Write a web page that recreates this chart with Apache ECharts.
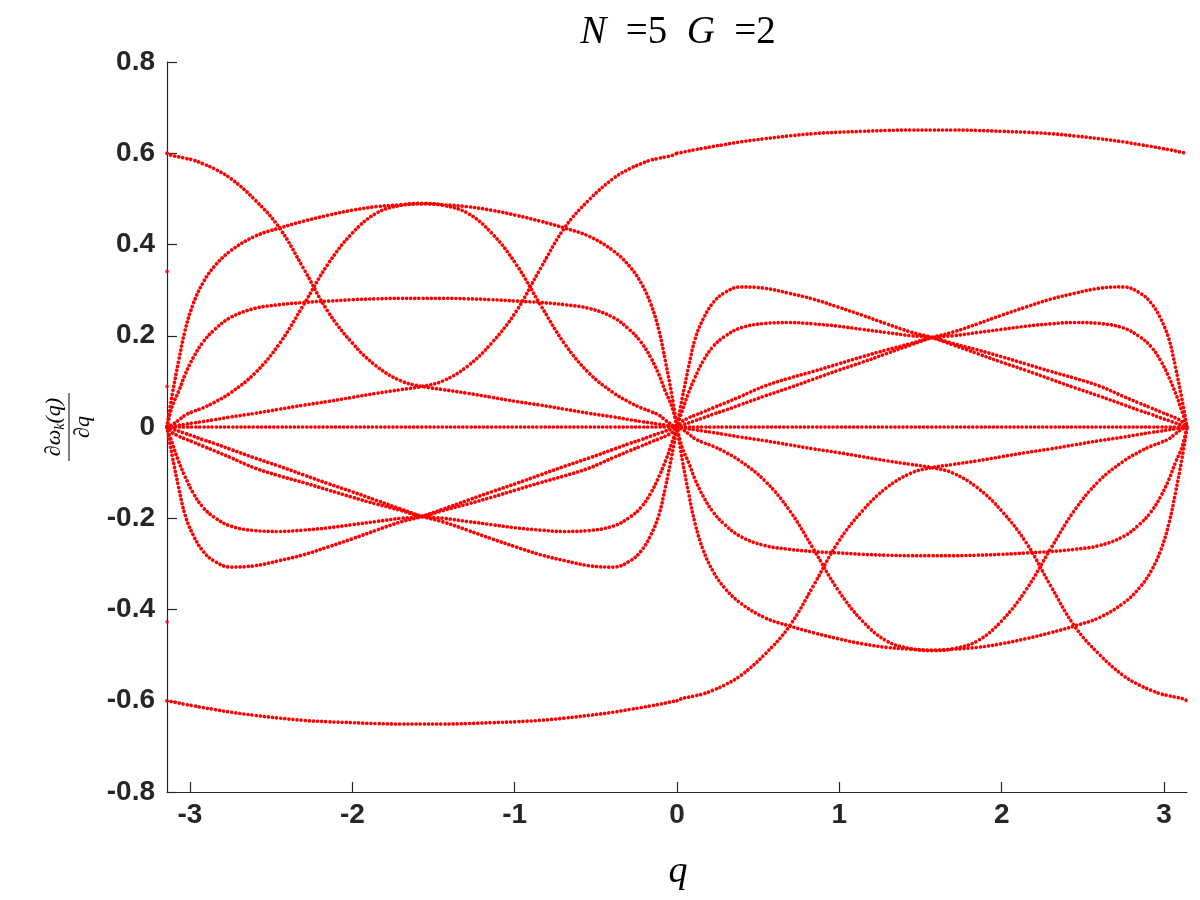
<!DOCTYPE html>
<html>
<head>
<meta charset="utf-8">
<script src="https://cdn.jsdelivr.net/npm/echarts@6/dist/echarts.min.js"></script>
<style>
  html, body { margin: 0; padding: 0; background: #fff; }
  #chart { width: 1200px; height: 900px; }
</style>
</head>
<body>
<div id="chart"></div>
<script>
// q grids for the two halves of the zone
const qLeft = [-3.1416, -3.11, -3.07, -3.03, -2.98, -2.92, -2.85, -2.75, -2.6, -2.45, -2.3, -2.15, -2.0, -1.85, -1.7, -1.5708,
  -1.4416, -1.2916, -1.1416, -0.9916, -0.8416, -0.6916, -0.5416, -0.3916, -0.2916, -0.2216, -0.1616, -0.1116, -0.0716, -0.0316, 0];
const qRight = [0, 0.0316, 0.0716, 0.1116, 0.1616, 0.2216, 0.2916, 0.3916, 0.5416, 0.6916, 0.8416, 0.9916, 1.1416, 1.2916, 1.4416, 1.5708,
  1.7, 1.85, 2.0, 2.15, 2.3, 2.45, 2.6, 2.75, 2.85, 2.92, 2.98, 3.03, 3.07, 3.11, 3.1416];

// ---- left half (q < 0)
const bowL = [-0.600, -0.602, -0.605, -0.608, -0.611, -0.615, -0.619, -0.625, -0.632, -0.638, -0.643, -0.646, -0.648, -0.650, -0.651, -0.651,
  -0.651, -0.650, -0.648, -0.646, -0.643, -0.638, -0.632, -0.625, -0.619, -0.615, -0.611, -0.608, -0.605, -0.602, -0.600];
const u1L = [0, 0.070, 0.145, 0.212, 0.270, 0.316, 0.352, 0.386, 0.418, 0.436, 0.451, 0.464, 0.475, 0.483, 0.487, 0.489,
  0.487, 0.483, 0.475, 0.464, 0.451, 0.436, 0.418, 0.386, 0.352, 0.316, 0.270, 0.212, 0.145, 0.070, 0];
const u2L = [0, 0.005, 0.015, 0.026, 0.034, 0.042, 0.054, 0.075, 0.118, 0.182, 0.268, 0.357, 0.425, 0.469, 0.486, 0.490,
  0.486, 0.469, 0.425, 0.357, 0.268, 0.182, 0.118, 0.075, 0.054, 0.042, 0.034, 0.026, 0.015, 0.005, 0];
const f1L = [0, 0.045, 0.078, 0.115, 0.152, 0.186, 0.213, 0.240, 0.260, 0.268, 0.273, 0.276, 0.279, 0.281, 0.282, 0.282,
  0.282, 0.281, 0.279, 0.276, 0.273, 0.268, 0.260, 0.240, 0.213, 0.186, 0.152, 0.115, 0.078, 0.045, 0];
const arcDownL = [0.600, 0.595, 0.592, 0.589, 0.585, 0.577, 0.566, 0.545, 0.498, 0.437, 0.347, 0.253, 0.184, 0.133, 0.101, 0.089,
  0.082, 0.074, 0.065, 0.056, 0.048, 0.039, 0.030, 0.022, 0.016, 0.012, 0.009, 0.006, 0.004, 0.002, 0];
const arcUpL = [0, 0.002, 0.004, 0.006, 0.009, 0.012, 0.016, 0.022, 0.030, 0.039, 0.048, 0.056, 0.065, 0.074, 0.082, 0.089,
  0.101, 0.133, 0.184, 0.253, 0.347, 0.437, 0.498, 0.545, 0.566, 0.577, 0.585, 0.589, 0.592, 0.595, 0.600];
const lowAL = [0, -0.004, -0.009, -0.014, -0.020, -0.028, -0.036, -0.049, -0.068, -0.086, -0.105, -0.124, -0.142, -0.161, -0.180, -0.196,
  -0.208, -0.226, -0.245, -0.263, -0.280, -0.293, -0.304, -0.307, -0.294, -0.272, -0.237, -0.193, -0.132, -0.062, 0];
const lowBL = [0, -0.062, -0.132, -0.193, -0.237, -0.272, -0.294, -0.307, -0.304, -0.293, -0.280, -0.263, -0.245, -0.226, -0.208, -0.196,
  -0.180, -0.161, -0.142, -0.124, -0.105, -0.086, -0.068, -0.049, -0.036, -0.028, -0.020, -0.014, -0.009, -0.004, 0];
const lowCL = [0, -0.012, -0.020, -0.026, -0.033, -0.042, -0.052, -0.067, -0.090, -0.107, -0.122, -0.138, -0.154, -0.169, -0.183, -0.196,
  -0.200, -0.207, -0.214, -0.221, -0.226, -0.229, -0.227, -0.217, -0.198, -0.176, -0.145, -0.109, -0.075, -0.035, 0];
const lowDL = [0, -0.035, -0.075, -0.109, -0.145, -0.176, -0.198, -0.217, -0.227, -0.229, -0.226, -0.221, -0.214, -0.207, -0.200, -0.196,
  -0.183, -0.169, -0.154, -0.138, -0.122, -0.107, -0.090, -0.067, -0.052, -0.042, -0.033, -0.026, -0.020, -0.012, 0];
const flatZero = [0, 0, 0, 0, 0, 0, 0, 0, 0, 0, 0, 0, 0, 0, 0, 0, 0, 0, 0, 0, 0, 0, 0, 0, 0, 0, 0, 0, 0, 0, 0];

// ---- right half (q > 0)
const capR = [0.600, 0.602, 0.605, 0.608, 0.611, 0.615, 0.619, 0.625, 0.632, 0.638, 0.643, 0.646, 0.648, 0.650, 0.651, 0.651,
  0.651, 0.650, 0.648, 0.646, 0.643, 0.638, 0.632, 0.625, 0.619, 0.615, 0.611, 0.608, 0.605, 0.602, 0.600];
const u1R = [0, -0.070, -0.145, -0.212, -0.270, -0.316, -0.352, -0.386, -0.418, -0.436, -0.451, -0.464, -0.475, -0.483, -0.487, -0.489,
  -0.487, -0.483, -0.475, -0.464, -0.451, -0.436, -0.418, -0.386, -0.352, -0.316, -0.270, -0.212, -0.145, -0.070, 0];
const u2R = [0, -0.005, -0.015, -0.026, -0.034, -0.042, -0.054, -0.075, -0.118, -0.182, -0.268, -0.357, -0.425, -0.469, -0.486, -0.490,
  -0.486, -0.469, -0.425, -0.357, -0.268, -0.182, -0.118, -0.075, -0.054, -0.042, -0.034, -0.026, -0.015, -0.005, 0];
const f1R = [0, -0.045, -0.078, -0.115, -0.152, -0.186, -0.213, -0.240, -0.260, -0.268, -0.273, -0.276, -0.279, -0.281, -0.282, -0.282,
  -0.282, -0.281, -0.279, -0.276, -0.273, -0.268, -0.260, -0.240, -0.213, -0.186, -0.152, -0.115, -0.078, -0.045, 0];
const arcDownR = [-0.600, -0.595, -0.592, -0.589, -0.585, -0.577, -0.566, -0.545, -0.498, -0.437, -0.347, -0.253, -0.184, -0.133, -0.101, -0.089,
  -0.082, -0.074, -0.065, -0.056, -0.048, -0.039, -0.030, -0.022, -0.016, -0.012, -0.009, -0.006, -0.004, -0.002, 0];
const arcUpR = [0, -0.002, -0.004, -0.006, -0.009, -0.012, -0.016, -0.022, -0.030, -0.039, -0.048, -0.056, -0.065, -0.074, -0.082, -0.089,
  -0.101, -0.133, -0.184, -0.253, -0.347, -0.437, -0.498, -0.545, -0.566, -0.577, -0.585, -0.589, -0.592, -0.595, -0.600];
const highAR = [0, 0.004, 0.009, 0.014, 0.020, 0.028, 0.036, 0.049, 0.068, 0.086, 0.105, 0.124, 0.142, 0.161, 0.180, 0.196,
  0.208, 0.226, 0.245, 0.263, 0.280, 0.293, 0.304, 0.307, 0.294, 0.272, 0.237, 0.193, 0.132, 0.062, 0];
const highBR = [0, 0.062, 0.132, 0.193, 0.237, 0.272, 0.294, 0.307, 0.304, 0.293, 0.280, 0.263, 0.245, 0.226, 0.208, 0.196,
  0.180, 0.161, 0.142, 0.124, 0.105, 0.086, 0.068, 0.049, 0.036, 0.028, 0.020, 0.014, 0.009, 0.004, 0];
const highCR = [0, 0.012, 0.020, 0.026, 0.033, 0.042, 0.052, 0.067, 0.090, 0.107, 0.122, 0.138, 0.154, 0.169, 0.183, 0.196,
  0.200, 0.207, 0.214, 0.221, 0.226, 0.229, 0.227, 0.217, 0.198, 0.176, 0.145, 0.109, 0.075, 0.035, 0];
const highDR = [0, 0.035, 0.075, 0.109, 0.145, 0.176, 0.198, 0.217, 0.227, 0.229, 0.226, 0.221, 0.214, 0.207, 0.200, 0.196,
  0.183, 0.169, 0.154, 0.138, 0.122, 0.107, 0.090, 0.067, 0.052, 0.042, 0.033, 0.026, 0.020, 0.012, 0];

// stray points sitting right on q = -pi
const edgeQ = [-3.1416, -3.1416, -3.1416];
const edgeV = [0.341, 0.089, -0.427];

const xTicks = [-3, -2, -1, 0, 1, 2, 3];

const leftCurves = [bowL, u1L, u2L, f1L, arcDownL, arcUpL, lowAL, lowBL, lowCL, lowDL, flatZero];
const rightCurves = [capR, u1R, u2R, f1R, arcDownR, arcUpR, highAR, highBR, highCR, highDR, flatZero];

function pairs(qs, vs) {
    return qs.map(function (q, i) { return [q, vs[i]]; });
}

function dotted(data) {
    return {
        type: 'line',
        data: data,
        showSymbol: false,
        symbol: 'none',
        smooth: 0.4,
        silent: true,
        lineStyle: {
            color: '#ff0000',
            width: 3.7,
            type: [0.01, 4.1],
            cap: 'round'
        }
    };
}

let series = [];
leftCurves.forEach(function (c) { series.push(dotted(pairs(qLeft, c))); });
rightCurves.forEach(function (c) { series.push(dotted(pairs(qRight, c))); });
series.push({
    type: 'scatter',
    data: pairs(edgeQ, edgeV),
    symbolSize: 3.7,
    silent: true,
    itemStyle: { color: '#ff0000' }
});

const axisColor = '#262626';
const labelFont = {
    fontSize: 28,
    fontWeight: 'bold',
    color: axisColor,
    fontFamily: 'Liberation Sans, Arial, sans-serif'
};

var chart = echarts.init(document.getElementById('chart'));
var option = {
    animation: false,
    backgroundColor: '#ffffff',
    grid: { left: 167, right: 13, top: 62, bottom: 108 },
    xAxis: {
        type: 'value',
        min: -3.1416,
        max: 3.1416,
        axisLine: { onZero: false, lineStyle: { color: axisColor, width: 1.2 } },
        axisTick: { inside: true, length: 10, customValues: xTicks, lineStyle: { color: axisColor, width: 1.2 } },
        axisLabel: Object.assign({ customValues: xTicks, margin: 9 }, labelFont),
        splitLine: { show: false }
    },
    yAxis: {
        type: 'value',
        min: -0.8,
        max: 0.8,
        interval: 0.2,
        axisLine: { show: true, onZero: false, lineStyle: { color: axisColor, width: 1.2 } },
        axisTick: { show: true, inside: true, length: 10, lineStyle: { color: axisColor, width: 1.2 } },
        axisLabel: Object.assign({
            margin: 12,
            formatter: function (v) { return String(+v.toFixed(1)); }
        }, labelFont),
        splitLine: { show: false }
    },
    graphic: [
        {
            type: 'text',
            x: 678,
            y: 33,
            style: {
                text: '{i|N}  =5  {i|G}  =2',
                fontSize: 39,
                fontFamily: 'Liberation Serif, serif',
                fill: '#000',
                align: 'center',
                verticalAlign: 'middle',
                rich: {
                    i: { fontStyle: 'italic', fontSize: 39, fontFamily: 'Liberation Serif, serif' }
                }
            }
        },
        {
            type: 'text',
            x: 678,
            y: 872,
            style: {
                text: 'q',
                fontSize: 38,
                fontStyle: 'italic',
                fontFamily: 'Liberation Serif, serif',
                fill: '#000',
                align: 'center',
                verticalAlign: 'middle'
            }
        },
        {
            // d omega_k(q) / dq, written sideways
            type: 'group',
            x: 69,
            y: 427,
            rotation: Math.PI / 2,
            children: [
                {
                    type: 'line',
                    shape: { x1: -34, y1: 0, x2: 34, y2: 0 },
                    style: { stroke: '#000', lineWidth: 1 }
                },
                {
                    type: 'text',
                    x: 0,
                    y: -2,
                    style: {
                        text: '{a|∂ω}{s|k}{a|(q)}',
                        fill: '#000',
                        align: 'center',
                        verticalAlign: 'bottom',
                        rich: {
                            a: { fontSize: 22, fontStyle: 'italic', fontFamily: 'Liberation Serif, serif', lineHeight: 26, verticalAlign: 'middle' },
                            s: { fontSize: 14, fontStyle: 'italic', fontFamily: 'Liberation Serif, serif', lineHeight: 26, verticalAlign: 'bottom' }
                        }
                    }
                },
                {
                    type: 'text',
                    x: 0,
                    y: 3,
                    style: {
                        text: '∂q',
                        fontSize: 22,
                        fontStyle: 'italic',
                        fontFamily: 'Liberation Serif, serif',
                        fill: '#000',
                        align: 'center',
                        verticalAlign: 'top'
                    }
                }
            ]
        }
    ],
    series: series
};
chart.setOption(option);
</script>
</body>
</html>
